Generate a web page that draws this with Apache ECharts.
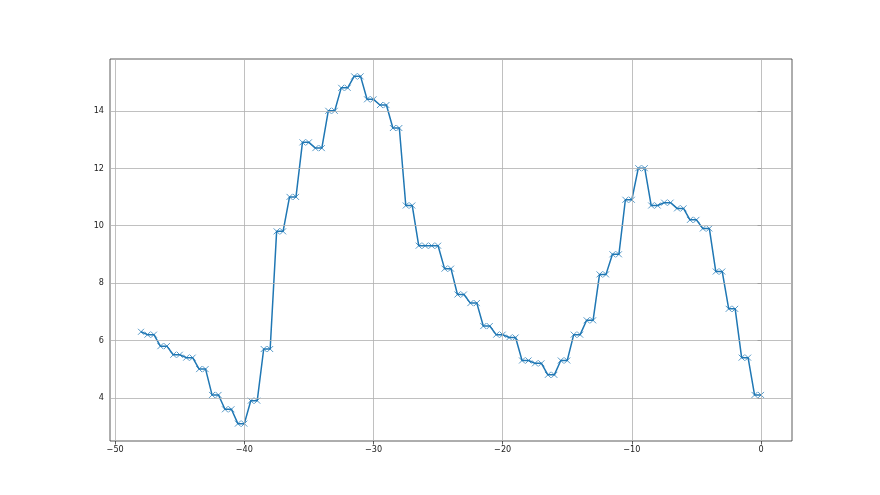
<!DOCTYPE html>
<html>
<head>
<meta charset="utf-8">
<script src="https://cdn.jsdelivr.net/npm/echarts@6/dist/echarts.min.js"></script>
<style>html,body{margin:0;padding:0;background:#fff;}#c{width:880px;height:495px;}</style>
</head>
<body>
<div id="c"></div>
<script>
var xValues = [-48,-47.5,-47,-46.5,-46,-45.5,-45,-44.5,-44,-43.5,-43,-42.5,-42,-41.5,-41,-40.5,-40,
  -39.5,-39,-38.5,-38,-37.5,-37,-36.5,-36,-35.5,-35,-34.5,-34,-33.5,-33,-32.5,-32,-31.5,-31,-30.5,-30,
  -29.5,-29,-28.5,-28,-27.5,-27,-26.5,-26,-25.5,-25,-24.5,-24,-23.5,-23,-22.5,-22,-21.5,-21,-20.5,-20,
  -19.5,-19,-18.5,-18,-17.5,-17,-16.5,-16,-15.5,-15,-14.5,-14,-13.5,-13,-12.5,-12,-11.5,-11,-10.5,-10,
  -9.5,-9,-8.5,-8,-7.5,-7,-6.5,-6,-5.5,-5,-4.5,-4,-3.5,-3,-2.5,-2,-1.5,-1,-0.5,0];
var yValues = [6.3,
  6.2,6.2, 5.8,5.8, 5.5,5.5, 5.4,5.4, 5.0,5.0, 4.1,4.1, 3.6,3.6, 3.1,3.1,
  3.9,3.9, 5.7,5.7, 9.8,9.8, 11.0,11.0, 12.9,12.9, 12.7,12.7, 14.0,14.0, 14.8,14.8, 15.2,15.2, 14.4,14.4,
  14.2,14.2, 13.4,13.4, 10.7,10.7, 9.3,9.3, 9.3,9.3, 8.5,8.5, 7.6,7.6, 7.3,7.3, 6.5,6.5, 6.2,6.2,
  6.1,6.1, 5.3,5.3, 5.2,5.2, 4.8,4.8, 5.3,5.3, 6.2,6.2, 6.7,6.7, 8.3,8.3, 9.0,9.0, 10.9,10.9,
  12.0,12.0, 10.7,10.7, 10.8,10.8, 10.6,10.6, 10.2,10.2, 9.9,9.9, 8.4,8.4, 7.1,7.1, 5.4,5.4, 4.1,4.1];
var xTicks = [-50,-40,-30,-20,-10,0];
var yTicks = [4,6,8,10,12,14];

var chart = echarts.init(document.getElementById('c'), null, {renderer:'canvas'});
function fmt(v){ return v < 0 ? '\u2212' + Math.abs(v) : String(v); }
var pts = xValues.map(function(x,i){ return [x, yValues[i]]; });
var gridLineStyle = {color:'#b0b0b0', width:0.8, type:'solid'};
var labelFont = "'DejaVu Sans Condensed', 'DejaVu Sans', sans-serif";
var option = {
  animation:false,
  backgroundColor:'#ffffff',
  grid:{left:110, right:88, top:59, bottom:54, show:true, borderColor:'#333', borderWidth:0.8, backgroundColor:'transparent'},
  xAxis:{type:'value', min:-50.4, max:2.4,
    axisLine:{show:false}, splitLine:{show:false},
    axisTick:{show:true, inside:false, length:3.5, customValues:xTicks, lineStyle:{color:'#333', width:0.8}},
    axisLabel:{customValues:xTicks, formatter:fmt, margin:4, color:'#222', fontSize:9, fontFamily:labelFont}},
  yAxis:{type:'value', min:2.495, max:15.805,
    axisLine:{show:false}, splitLine:{show:false},
    axisTick:{show:true, inside:false, length:3.5, customValues:yTicks, lineStyle:{color:'#333', width:0.8}},
    axisLabel:{customValues:yTicks, formatter:fmt, margin:6, color:'#222', fontSize:9, fontFamily:labelFont}},
  series:[
    {type:'line', data:[], z:1, silent:true,
      markLine:{silent:true, symbol:'none', animation:false, label:{show:false}, lineStyle:gridLineStyle,
        data: xTicks.map(function(v){return {xAxis:v};}).concat(yTicks.map(function(v){return {yAxis:v};}))}},
    {type:'line', data:pts, z:3,
      lineStyle:{color:'#1f77b4', width:1.5},
      symbol:'path://M0,0L10,10M10,0L0,10', symbolSize:6, showAllSymbol:true,
      itemStyle:{color:'rgba(0,0,0,0)', borderColor:'rgba(31,119,180,0.75)', borderWidth:1}}
  ]
};
chart.setOption(option);
</script>
</body>
</html>
